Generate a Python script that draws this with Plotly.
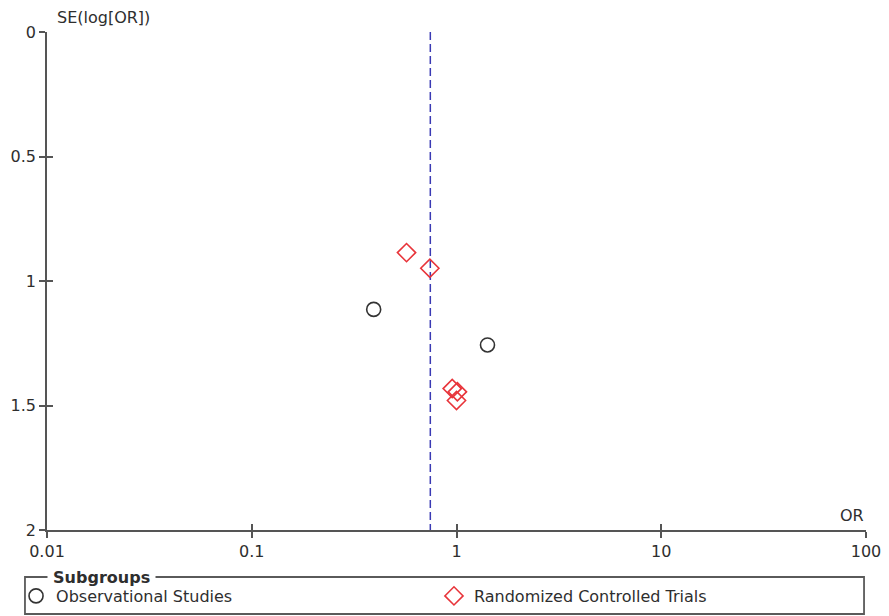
import plotly.graph_objects as go

# Funnel plot: odds ratio vs standard error of log(OR), by subgroup
obs_or = [0.394, 1.417]
obs_se = [1.114, 1.257]

rct_or = [0.570, 0.741, 0.953, 1.01, 1.0]
rct_se = [0.886, 0.949, 1.432, 1.445, 1.480]

pooled_or = 0.745
se_range = [0, 2]

x_ticks = [0.01, 0.1, 1, 10, 100]
x_tick_text = ["0.01", "0.1", "1", "10", "100"]
y_ticks = [0, 0.5, 1, 1.5, 2]
y_tick_text = ["0", "0.5", "1", "1.5", "2"]

FONT = "DejaVu Sans"
AXIS_COL = "#555555"
TEXT_COL = "#2e2e2e"

fig = go.Figure()

fig.add_trace(go.Scatter(
    x=[pooled_or, pooled_or], y=se_range, mode="lines",
    line=dict(color="#3a3ab4", width=1.5, dash="8px,4px"),
    showlegend=False, hoverinfo="skip",
))

fig.add_trace(go.Scatter(
    x=obs_or, y=obs_se, mode="markers", name="Observational Studies",
    legend="legend",
    marker=dict(symbol="circle-open", size=14, color="#333333",
                line=dict(width=1.6, color="#333333")),
))

fig.add_trace(go.Scatter(
    x=rct_or, y=rct_se, mode="markers", name="Randomized Controlled Trials",
    legend="legend2",
    marker=dict(symbol="diamond-open", size=14, color="#e8343a",
                line=dict(width=1.6, color="#e8343a")),
))

# empty trace so the companion tick axes get drawn
fig.add_trace(go.Scatter(x=[], y=[], xaxis="x2", yaxis="y2",
                         showlegend=False, hoverinfo="skip"))

axis_common = dict(
    showgrid=False, zeroline=False, showline=True, linecolor=AXIS_COL,
    linewidth=1.5, ticks="outside", ticklen=6, tickwidth=1.5,
    tickcolor=AXIS_COL, tickfont=dict(family=FONT, size=16, color=TEXT_COL),
)

legend_common = dict(orientation="h", xanchor="left", yanchor="middle",
                     y=-0.1325, font=dict(family=FONT, size=16, color=TEXT_COL),
                     bgcolor="rgba(0,0,0,0)", borderwidth=0)

fig.update_layout(
    width=889, height=616,
    margin=dict(l=47, r=23, t=32, b=86, autoexpand=False),
    paper_bgcolor="white", plot_bgcolor="white",
    font=dict(family=FONT, size=16, color=TEXT_COL),
    xaxis=dict(type="log", range=[-2, 2], tickvals=x_ticks,
               ticktext=x_tick_text, **axis_common),
    yaxis=dict(range=[2, 0], tickvals=y_ticks, ticktext=y_tick_text,
               **axis_common),
    # companion axes that give the tick marks their inner half
    xaxis2=dict(type="log", range=[-2, 2], overlaying="x", anchor="y2",
                side="bottom", tickvals=x_ticks, showticklabels=False,
                ticks="inside", ticklen=6, tickwidth=1.5, tickcolor=AXIS_COL,
                showgrid=False, zeroline=False, showline=False),
    yaxis2=dict(range=[2, 0], overlaying="y", anchor="x2", side="left",
                tickvals=y_ticks, showticklabels=False, ticks="inside",
                ticklen=6, tickwidth=1.5, tickcolor=AXIS_COL,
                showgrid=False, zeroline=False, showline=False),
    legend=dict(x=-0.0378, **legend_common),
    legend2=dict(x=0.4725, **legend_common),
    showlegend=True,
)

# Subgroups frame around the legend
fig.add_shape(type="rect", xref="paper", yref="paper",
              x0=-0.0269, x1=0.9976, y0=-0.0944, y1=-0.1687,
              line=dict(color="#5a5a5a", width=1.8), layer="below")

fig.add_annotation(text="&nbsp;<b>Subgroups</b>&nbsp;", xref="paper",
                   yref="paper", x=0.0, y=-0.0944, xanchor="left",
                   yanchor="middle", showarrow=False, bgcolor="white",
                   borderpad=0,
                   font=dict(family=FONT, size=16, color=TEXT_COL))

fig.add_annotation(text="SE(log[OR])", xref="paper", yref="paper",
                   x=0.0098, y=1.03, xanchor="left", yanchor="middle",
                   showarrow=False,
                   font=dict(family=FONT, size=16, color=TEXT_COL))

fig.add_annotation(text="OR", xref="paper", yref="paper",
                   x=0.983, y=0.03, xanchor="center", yanchor="middle",
                   showarrow=False,
                   font=dict(family=FONT, size=16, color=TEXT_COL))

fig.write_html("out.html")
